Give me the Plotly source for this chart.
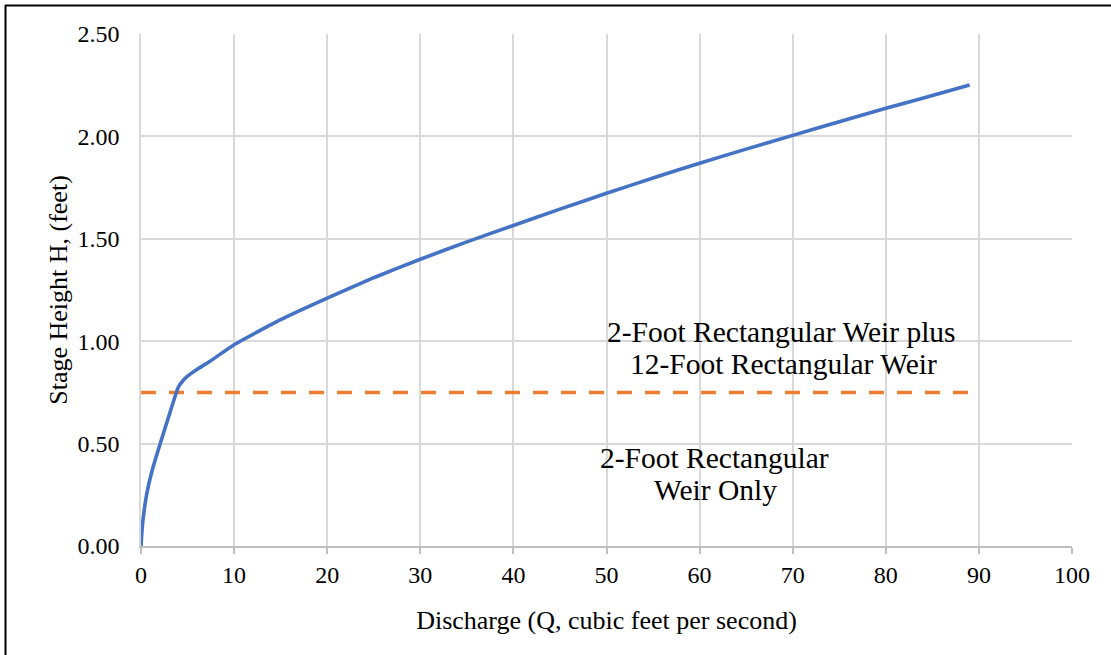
import plotly.graph_objects as go

# Rating curve
discharge_q = [0, 0.15, 0.6, 1.2, 2.2, 3.1, 4.0, 4.5, 5.0, 6.0, 7.5, 10, 15, 20, 25, 30, 35, 40, 45, 50, 55, 60, 65, 70, 75, 80, 85, 89]
stage_h = [0, 0.10, 0.25, 0.37, 0.52, 0.65, 0.775, 0.807, 0.83, 0.862, 0.905, 0.983, 1.105, 1.21, 1.31, 1.40, 1.485, 1.565, 1.645, 1.722, 1.797, 1.869, 1.938, 2.005, 2.072, 2.137, 2.20, 2.251]

# Transition stage between the two weir regimes
transition_q = [0, 89]
transition_h = [0.75, 0.75]

x_ticks = [0, 10, 20, 30, 40, 50, 60, 70, 80, 90, 100]
y_ticks = [0.0, 0.5, 1.0, 1.5, 2.0, 2.5]

upper_lines = ["2-Foot Rectangular Weir plus", "12-Foot Rectangular Weir"]
upper_q = [68.85, 69.0]
upper_h = [1.045, 0.889]
lower_lines = ["2-Foot Rectangular", "Weir Only"]
lower_q = [61.65, 61.76]
lower_h = [0.430, 0.273]

FONT = "Liberation Serif, Times New Roman, serif"

fig = go.Figure()
fig.add_trace(go.Scatter(x=transition_q, y=transition_h, mode="lines",
                         line=dict(color="#ED7D31", width=3.5, dash="15px,13px"),
                         showlegend=False, hoverinfo="skip"))
fig.add_trace(go.Scatter(x=discharge_q, y=stage_h, mode="lines",
                         line=dict(color="#4472C4", width=3.6, shape="spline", smoothing=0.4),
                         showlegend=False))

for txt, q, h in zip(upper_lines + lower_lines, upper_q + lower_q, upper_h + lower_h):
    fig.add_annotation(x=q, y=h, text=txt, showarrow=False,
                       font=dict(family=FONT, size=29.5, color="black"), align="center")

W, H = 1111, 655
L, R, T, B = 141, 39, 34, 109
pw, ph = W - L - R, H - T - B
def px(xp):
    return (xp - L) / pw
def py(yp):
    return (H - B - yp) / ph

# outer frame (left and top edges visible)
fig.add_shape(type="line", xref="paper", yref="paper", x0=px(5), x1=px(W + 5), y0=py(5.5), y1=py(5.5),
              line=dict(color="black", width=2))
fig.add_shape(type="line", xref="paper", yref="paper", x0=px(5.5), x1=px(5.5), y0=py(5), y1=py(H + 5),
              line=dict(color="black", width=2))

fig.update_layout(
    width=W, height=H,
    margin=dict(l=L, r=R, t=T, b=B),
    paper_bgcolor="white", plot_bgcolor="white",
    font=dict(family=FONT, size=24, color="black"),
    xaxis=dict(range=[0, 100], tickvals=x_ticks, ticktext=[str(v) for v in x_ticks],
               showgrid=True, gridcolor="#D9D9D9", gridwidth=1.5, zeroline=False,
               showline=True, linecolor="#BFBFBF", linewidth=1.5,
               ticks="outside", ticklen=6, tickcolor="#BFBFBF", tickwidth=1.5,
               title=dict(text="Discharge (Q, cubic feet per second)", font=dict(size=26), standoff=24),
               tickfont=dict(size=24)),
    yaxis=dict(range=[0, 2.5], tickvals=y_ticks, ticktext=[f"{v:.2f}" for v in y_ticks],
               showgrid=True, gridcolor="#D9D9D9", gridwidth=1.5, zeroline=False,
               showline=True, linecolor="#D9D9D9", linewidth=1.5,
               ticks="", ticklabelstandoff=15,
               title=dict(text="Stage Height H, (feet)", font=dict(size=26), standoff=2),
               tickfont=dict(size=24)),
)

fig.write_html("out.html", config={"displayModeBar": False},
               post_script="document.body.style.margin='0';document.body.style.overflow='hidden';")
